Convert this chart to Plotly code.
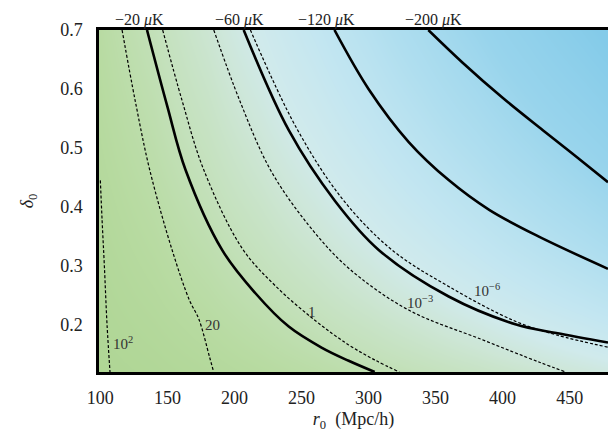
import plotly.graph_objects as go

# ---------------- data ----------------
# background field: temperature decrement (micro K) on a coarse grid
r_grid = [100, 140, 180, 220, 260, 300, 340, 380, 420, 460, 500]
delta_grid = [0.1, 0.2, 0.3, 0.4, 0.5, 0.6, 0.7]
dT_uK = [
    [-1.1, -2.4, -4.3, -6.9, -10.2, -14.3, -19.1, -24.8, -31.4, -38.8, -47.2],
    [-2.5, -5.4, -9.7, -15.5, -23.0, -32.2, -43.0, -55.8, -70.7, -87.3, -106.0],
    [-3.9, -8.7, -15.6, -25.0, -36.9, -51.7, -69.0, -89.7, -113.5, -140.3, -170.6],
    [-5.5, -12.1, -21.9, -35.0, -51.6, -72.4, -96.6, -125.5, -158.9, -196.3, -238.8],
    [-7.2, -15.8, -28.4, -45.4, -67.0, -94.0, -125.5, -162.9, -206.3, -254.9, -310.0],
    [-8.9, -19.5, -35.2, -56.2, -83.0, -116.4, -155.5, -201.9, -255.6, -315.8, -384.0],
    [-10.6, -23.4, -42.1, -67.4, -99.5, -139.4, -186.2, -241.8, -306.2, -378.3, -460.0],
]

# solid contours of constant temperature decrement
solid_labels = ["\u221220 <i>\u03bc</i>K", "\u221260 <i>\u03bc</i>K",
                "\u2212120 <i>\u03bc</i>K", "\u2212200 <i>\u03bc</i>K"]
solid_label_x = [129.4, 204.0, 268.8, 348.7]
solid_m20_r = [134.8, 150, 163.5, 190.8, 215.5, 240.5, 265.3, 285.2, 304.6]
solid_m20_d = [0.70, 0.57, 0.463, 0.327, 0.254, 0.197, 0.161, 0.139, 0.12]
solid_m60_r = [206.9, 240.5, 275, 307.6, 359.8, 409.5, 440, 478.6]
solid_m60_d = [0.70, 0.53, 0.41, 0.327, 0.248, 0.201, 0.186, 0.170]
solid_m120_r = [274.6, 300, 330, 360, 390, 426.7, 478.6]
solid_m120_d = [0.70, 0.60, 0.51, 0.445, 0.395, 0.35, 0.295]
solid_m200_r = [344.6, 370, 400, 430, 455, 478.6]
solid_m200_d = [0.70, 0.645, 0.585, 0.53, 0.485, 0.442]

# dashed contours (significance levels)
dash_1e2_r = [100.0, 101.3, 103.0, 105.0, 107.2]
dash_1e2_d = [0.445, 0.378, 0.30, 0.20, 0.12]
dash_20_r = [116.2, 126, 136.8, 153.5, 166.4, 173.4, 181.5, 184.5]
dash_20_d = [0.70, 0.58, 0.463, 0.327, 0.242, 0.21, 0.145, 0.12]
dash_1_r = [146.5, 161, 177.1, 205.7, 230.6, 260.4, 285.2, 305, 323]
dash_1_d = [0.70, 0.58, 0.463, 0.33, 0.266, 0.207, 0.166, 0.14, 0.12]
dash_1em3_r = [184.6, 204, 226.8, 255, 285.2, 330, 384.6, 427, 447]
dash_1em3_d = [0.70, 0.58, 0.463, 0.37, 0.296, 0.225, 0.175, 0.137, 0.12]
dash_1em6_r = [211.9, 246, 280, 317.5, 359.8, 409.5, 440, 478.6]
dash_1em6_d = [0.70, 0.535, 0.415, 0.327, 0.265, 0.206, 0.183, 0.162]

dash_label_text = ["10<sup>2</sup>", "20", "1", "10<sup>\u22123</sup>", "10<sup>\u22126</sup>"]
dash_label_r = [117.0, 183.3, 257.9, 338.7, 388.4]
dash_label_d = [0.17, 0.20, 0.2225, 0.239, 0.259]

x_ticks = [100, 150, 200, 250, 300, 350, 400, 450]
y_ticks = [0.2, 0.3, 0.4, 0.5, 0.6, 0.7]

# ---------------- figure ----------------
FONT = "Liberation Serif"
colorscale = [
    [0.0, "rgb(132,203,233)"],
    [0.375, "rgb(152,212,236)"],
    [0.6, "rgb(175,222,239)"],
    [0.75, "rgb(195,230,241)"],
    [0.8375, "rgb(208,234,236)"],
    [0.8875, "rgb(205,230,214)"],
    [0.9375, "rgb(196,225,188)"],
    [0.975, "rgb(184,219,162)"],
    [1.0, "rgb(174,213,147)"],
]

fig = go.Figure()
fig.add_trace(go.Heatmap(x=r_grid, y=delta_grid, z=dT_uK, zmin=-400, zmax=0,
                         colorscale=colorscale, zsmooth="best", showscale=False,
                         hoverinfo="skip"))

dashed = [(dash_1e2_r, dash_1e2_d), (dash_20_r, dash_20_d), (dash_1_r, dash_1_d),
          (dash_1em3_r, dash_1em3_d), (dash_1em6_r, dash_1em6_d)]
for xs, ys in dashed:
    fig.add_trace(go.Scatter(x=xs, y=ys, mode="lines",
                             line=dict(color="black", width=1.2, dash="3px,2px", shape="spline"),
                             showlegend=False, hoverinfo="skip"))

solid = [(solid_m20_r, solid_m20_d), (solid_m60_r, solid_m60_d),
         (solid_m120_r, solid_m120_d), (solid_m200_r, solid_m200_d)]
for xs, ys in solid:
    fig.add_trace(go.Scatter(x=xs, y=ys, mode="lines",
                             line=dict(color="black", width=2.6, shape="spline"),
                             showlegend=False, hoverinfo="skip"))

annotations = []
for txt, xv in zip(solid_labels, solid_label_x):
    annotations.append(dict(x=xv, y=1, xref="x", yref="paper", text=txt, showarrow=False,
                            yanchor="bottom", yshift=-1,
                            font=dict(family=FONT, size=16, color="#222")))
for txt, xv, yv in zip(dash_label_text, dash_label_r, dash_label_d):
    annotations.append(dict(x=xv, y=yv, xref="x", yref="y", text=txt, showarrow=False,
                            font=dict(family=FONT, size=15, color="#333")))

fig.update_layout(
    width=608, height=432,
    margin=dict(l=99, r=0, t=30, b=60),
    paper_bgcolor="white", plot_bgcolor="white",
    showlegend=False,
    font=dict(family=FONT, size=18, color="#222"),
    annotations=annotations,
    xaxis=dict(range=[99, 478.6], tickvals=x_ticks, ticks="", showgrid=False,
               zeroline=False, showline=True, linecolor="black", linewidth=2.5,
               mirror=True, tickfont=dict(family=FONT, size=18, color="#222"),
               ticklabelstandoff=8,
               title=dict(text="<i>r</i><sub>0</sub>  (Mpc/h)", standoff=8,
                          font=dict(family=FONT, size=18, color="#222"))),
    yaxis=dict(range=[0.12, 0.7], tickvals=y_ticks, tickformat=".1f", ticks="",
               showgrid=False, zeroline=False, showline=True, linecolor="black",
               linewidth=2.5, mirror=False,
               tickfont=dict(family=FONT, size=18, color="#222"),
               ticklabelstandoff=10,
               title=dict(text="<i>\u03b4</i><sub>0</sub>", standoff=22,
                          font=dict(family=FONT, size=18, color="#222"))),
)

fig.write_html("out.html")
